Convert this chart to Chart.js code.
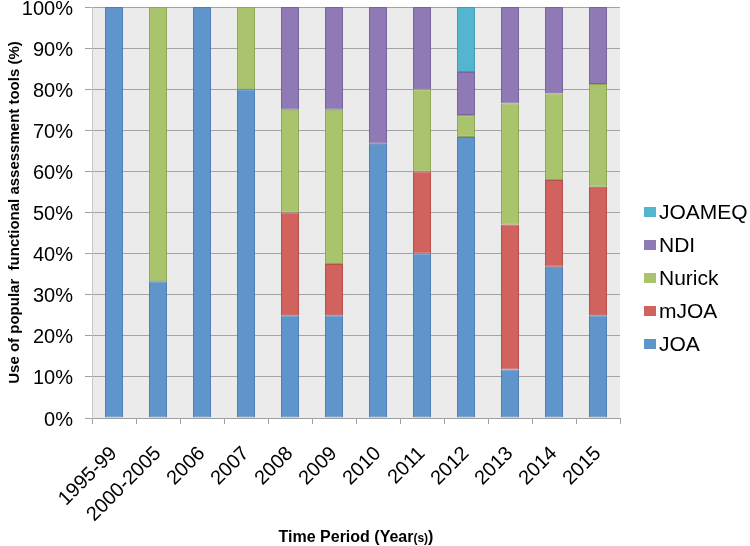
<!DOCTYPE html>
<html>
<head>
<meta charset="utf-8">
<script src="https://cdn.jsdelivr.net/npm/chart.js@4/dist/chart.umd.min.js"></script>
<style>
  html, body { margin: 0; padding: 0; background: #fff; }
  #wrap { width: 750px; height: 546px; }
</style>
</head>
<body>
<div id="wrap"><canvas id="toolsChart" width="750" height="546"></canvas></div>
<script>
// time periods on the x axis
const periods = ['1995-99', '2000-2005', '2006', '2007', '2008', '2009', '2010', '2011', '2012', '2013', '2014', '2015'];

// share of each tool per period (%), null = not used
const joa    = [100, 33.3, 100, 80, 25, 25, 66.7, 40, 68.4, 11.8, 36.8, 25];
const mjoa   = [null, null, null, null, 25, 12.5, null, 20, null, 35.3, 21.1, 31.25];
const nurick = [null, 66.7, null, 20, 25, 37.5, null, 20, 5.3, 29.4, 21.1, 25];
const ndi    = [null, null, null, null, 25, 25, 33.3, 20, 10.5, 23.5, 21.0, 18.75];
const joameq = [null, null, null, null, null, null, null, null, 15.8, null, null, null];

const yTicks = [0, 10, 20, 30, 40, 50, 60, 70, 80, 90, 100];

const FONT = "'Liberation Sans', Arial, Helvetica, sans-serif";

// grey plot background
const plotBg = {
    id: 'plotBg',
    beforeDraw(chart) {
        const a = chart.chartArea, ctx = chart.ctx;
        ctx.save();
        ctx.fillStyle = '#ebebeb';
        ctx.fillRect(a.left, a.top, a.right - a.left, a.bottom - a.top);
        ctx.restore();
    }
};

// legend on the right, top entry = last dataset
const sideLegend = {
    id: 'sideLegend',
    afterDraw(chart) {
        const ctx = chart.ctx;
        const sets = chart.data.datasets.slice().reverse();
        ctx.save();
        ctx.font = '21px ' + FONT;
        ctx.textBaseline = 'middle';
        sets.forEach((ds, i) => {
            const y = 212 + i * 33;
            ctx.fillStyle = ds.backgroundColor;
            ctx.fillRect(644, y - 5, 12, 10);
            ctx.fillStyle = '#000';
            ctx.fillText(ds.label, 659, y + 1);
        });
        ctx.restore();
    }
};

// x title with the small "(s)" like the original
const xTitle = {
    id: 'xTitle',
    afterDraw(chart) {
        const ctx = chart.ctx;
        const parts = [['Time Period (Year', 16], ['(s)', 12], [')', 16]];
        ctx.save();
        ctx.fillStyle = '#000';
        ctx.textBaseline = 'alphabetic';
        let total = 0;
        parts.forEach(p => { ctx.font = 'bold ' + p[1] + 'px ' + FONT; total += ctx.measureText(p[0]).width; });
        const a = chart.chartArea;
        let x = (a.left + a.right) / 2 - total / 2;
        parts.forEach(p => {
            ctx.font = 'bold ' + p[1] + 'px ' + FONT;
            ctx.fillText(p[0], x, 542);
            x += ctx.measureText(p[0]).width;
        });
        ctx.restore();
    }
};

const ctx = document.getElementById('toolsChart').getContext('2d');
const toolsChart = new Chart(ctx, {
    type: 'bar',
    data: {
        labels: periods,
        datasets: [
            { label: 'JOA', data: joa, backgroundColor: '#6095cb', borderColor: '#4d7fb6' },
            { label: 'mJOA', data: mjoa, backgroundColor: '#d1625e', borderColor: '#b64f4b' },
            { label: 'Nurick', data: nurick, backgroundColor: '#a9c46d', borderColor: '#8ea85a' },
            { label: 'NDI', data: ndi, backgroundColor: '#8f7ab5', borderColor: '#77639d' },
            { label: 'JOAMEQ', data: joameq, backgroundColor: '#53b5d0', borderColor: '#409bb5' }
        ]
    },
    options: {
        responsive: false,
        animation: false,
        devicePixelRatio: 1,
        layout: { padding: { left: 6, right: 130, top: 7, bottom: 0 } },
        datasets: {
            bar: { categoryPercentage: 1, barPercentage: 0.41, borderWidth: 1, borderSkipped: false }
        },
        plugins: {
            legend: { display: false },
            tooltip: { enabled: false }
        },
        scales: {
            x: {
                stacked: true,
                afterFit: s => { s.paddingLeft = 0; s.paddingRight = 0; s.height = 128; },
                grid: { display: true, drawOnChartArea: false, drawTicks: true, tickLength: 6, color: '#a0a0a0' },
                border: { color: '#a0a0a0' },
                ticks: { color: '#000', font: { family: FONT, size: 20 }, maxRotation: 45, minRotation: 45, padding: 18 },
                title: { display: false }
            },
            y: {
                stacked: true,
                min: 0,
                max: 100,
                afterBuildTicks: axis => { axis.ticks = yTicks.map(v => ({ value: v })); },
                afterFit: s => { s.paddingTop = 0; s.paddingBottom = 0; s.width = 86; },
                grid: { color: '#a3a3a3', tickLength: 7 },
                border: { color: '#c8c8c8' },
                ticks: { color: '#000', font: { family: FONT, size: 20 }, padding: 12, labelOffset: 2, callback: v => v + '%' },
                title: {
                    display: true,
                    text: 'Use of popular  functional assessment tools (%)',
                    color: '#000',
                    font: { family: FONT, size: 15, weight: 'bold' },
                    padding: { top: 0, bottom: 0 }
                }
            }
        }
    },
    plugins: [plotBg, sideLegend, xTitle]
});
</script>
</body>
</html>
